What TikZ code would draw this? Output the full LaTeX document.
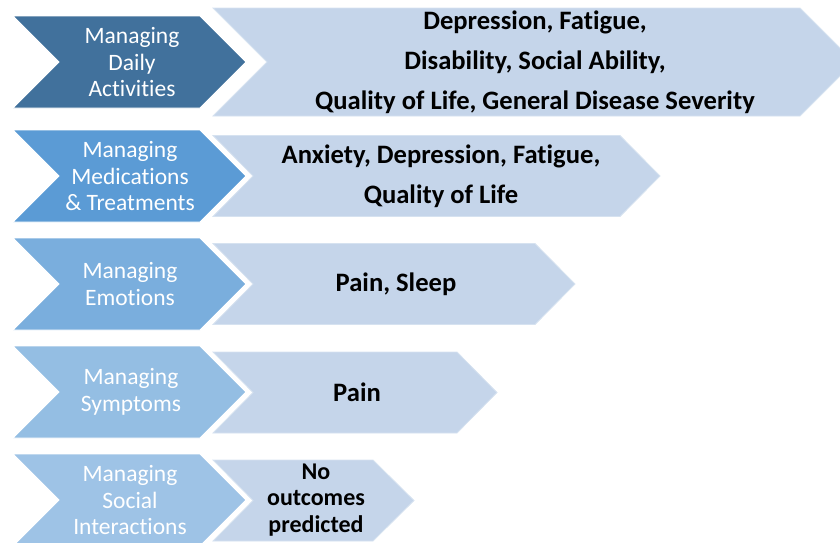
\documentclass[tikz,border=0pt]{standalone}
\usepackage{fontspec}
\setmainfont[Ligatures=NoCommon]{Carlito}
\definecolor{cA}{HTML}{41719C}
\definecolor{cB}{HTML}{5B9BD5}
\definecolor{cC}{HTML}{7AAEDD}
\definecolor{cD}{HTML}{94BEE3}
\definecolor{cE}{HTML}{9EC3E6}
\definecolor{cR}{HTML}{C5D5EA}
\tikzset{
  lefttext/.style={text=white, align=center, font=\fontsize{23.5}{26.5}\selectfont, inner sep=0pt},
  righttext/.style={text=black, align=center, font=\bfseries\fontsize{26.6}{40}\selectfont, inner sep=0pt},
  rightbox/.style={fill=cR, draw=cR!70!white, line width=0.8pt},
  leftbox/.style={draw=white, line width=0.8pt}
}
\begin{document}
\begin{tikzpicture}[x=1pt,y=-1pt]
\useasboundingbox (0,0) rectangle (840,542);
\clip (0,0) rectangle (840,542);
% right arrows
\path[rightbox] (213,8) -- (800,8) -- (854,62) -- (800,116) -- (213,116) -- (267,62) -- cycle;
\path[rightbox] (213,135.5) -- (620,135.5) -- (660,176) -- (620,216.5) -- (213,216.5) -- (253,176) -- cycle;
\path[rightbox] (213,243.5) -- (535,243.5) -- (575,284) -- (535,324.5) -- (213,324.5) -- (253,284) -- cycle;
\path[rightbox] (213,352) -- (457,352) -- (497,392.5) -- (457,433) -- (213,433) -- (253,392.5) -- cycle;
\path[rightbox] (213,460) -- (373,460) -- (414,500.5) -- (373,541) -- (213,541) -- (253,500.5) -- cycle;
% left chevrons
\path[leftbox, fill=cA] (13,16) -- (200,16) -- (246,62) -- (200,108) -- (13,108) -- (59,62) -- cycle;
\path[leftbox, fill=cB] (13,130) -- (200,130) -- (246,176) -- (200,222) -- (13,222) -- (59,176) -- cycle;
\path[leftbox, fill=cC] (13,238) -- (200,238) -- (246,284) -- (200,330) -- (13,330) -- (59,284) -- cycle;
\path[leftbox, fill=cD] (13,346) -- (200,346) -- (246,392) -- (200,438) -- (13,438) -- (59,392) -- cycle;
\path[leftbox, fill=cE] (13,454) -- (200,454) -- (246,500) -- (200,546) -- (13,546) -- (59,500) -- cycle;
% left texts
\node[lefttext] (l1) at (132,62) {Managing\\Daily\\Activities};
\node[lefttext] (l2) at (130,176) {Managing\\Medications\\\& Treatments};
\node[lefttext] (l3) at (130,284) {Managing\\Emotions};
\node[lefttext] (l4) at (131,392) {Managing\\Symptoms};
\node[lefttext] (l5) at (130,500) {Managing\\Social\\Interactions};
% right texts
\node[righttext] (r1) at (535,62) {Depression, Fatigue,\\Disability, Social Ability,\\Quality of Life, General Disease Severity};
\node[righttext] (r2) at (441,176.5) {Anxiety, Depression, Fatigue,\\Quality of Life};
\node[righttext] (r3) at (396,284) {Pain, Sleep};
\node[righttext] (r4) at (357,392) {Pain};
\node[righttext, font=\bfseries\fontsize{24}{26.5}\selectfont] (r5) at (316,500) {No\\outcomes\\predicted};
\end{tikzpicture}
\end{document}
